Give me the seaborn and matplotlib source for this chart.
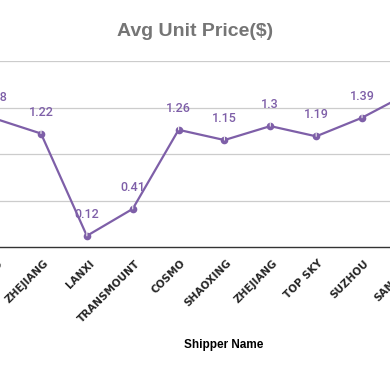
import matplotlib
matplotlib.use("Agg")
import matplotlib.pyplot as plt
import matplotlib.transforms as mtransforms
import seaborn as sns
import pandas as pd

# values (first and last shipper are cut off at the edges)
shippers = ["NINGBO", "ZHEJIANG", "LANXI", "TRANSMOUNT", "COSMO",
            "SHAOXING", "ZHEJIANG", "TOP SKY", "SUZHOU", "SANGHAI"]
avg_price = [1.38, 1.22, 0.12, 0.41, 1.26, 1.15, 1.3, 1.19, 1.39, 1.65]
price_labels = ["1.38", "1.22", "0.12", "0.41", "1.26", "1.15", "1.3", "1.19", "1.39", "1.65"]

purple = "#7e5fa8"

df = pd.DataFrame({"pos": range(len(shippers)), "price": avg_price})

sns.set_style("white")
plt.rcParams["font.family"] = ["Liberation Sans", "DejaVu Sans"]

fig = plt.figure(figsize=(3.9, 3.71), dpi=100)
# the chart is a crop of a wider one: the axes run past both figure edges
ax = fig.add_axes([-60 / 390, 124 / 371, 510 / 390, 186 / 371])

sns.lineplot(data=df, x="pos", y="price", ax=ax, color=purple, linewidth=1.6,
             marker="o", markersize=5.5, markeredgewidth=0)

for x, y, lab in zip(df["pos"], df["price"], price_labels):
    ax.annotate(lab, xy=(x, y), xytext=(0, 15.5), textcoords="offset points",
                ha="center", va="center", color=purple, fontsize=9,
                family="Roboto", fontweight="medium",
                arrowprops=dict(arrowstyle="-", color="#eeeeee", lw=0.8,
                                shrinkA=6, shrinkB=3))

ax.set_xticks(df["pos"])
ax.set_xticklabels(shippers)
ax.set_xlim(-1.202, 9.918)
ax.set_ylim(0, 2)
ax.set_yticks([0.5, 1.0, 1.5, 2.0])
ax.set_yticklabels([])
ax.grid(axis="y", color="#cccccc", linewidth=0.9)
ax.grid(axis="x", visible=False)
for s in ["top", "left", "right"]:
    ax.spines[s].set_visible(False)
ax.spines["bottom"].set_color("#333333")
ax.spines["bottom"].set_linewidth(1.0)

ax.tick_params(axis="both", length=0)
ax.tick_params(axis="x", pad=8)
shift = mtransforms.ScaledTranslation(2 / 100, 0, fig.dpi_scale_trans)
for t in ax.get_xticklabels():
    t.set_rotation(45)
    t.set_ha("right")
    t.set_va("top")
    t.set_rotation_mode("anchor")
    t.set_fontsize(7.5)
    t.set_fontweight("bold")
    t.set_family("DejaVu Sans")
    t.set_transform(t.get_transform() + shift)

ax.set_xlabel("Shipper Name", fontsize=8.5, fontweight="bold", color="black")
ax.xaxis.set_label_coords((224 + 60) / 510, -(345 - 247) / 186, transform=ax.transAxes)
ax.xaxis.label.set_va("center")
ax.set_ylabel("")

fig.text(0.5, 1 - 31 / 371, "Avg Unit Price($)", ha="center", va="center",
         fontsize=14, fontweight="bold", color="#757575")

fig.savefig("out.png", dpi=100)
